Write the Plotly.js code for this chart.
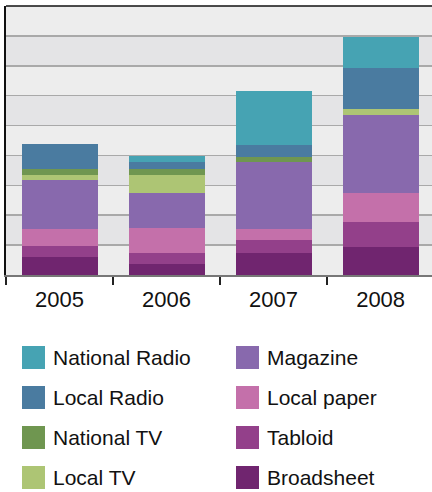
<!DOCTYPE html>
<html>
<head>
<meta charset="utf-8">
<script src="https://cdn.plot.ly/plotly-3.0.1.min.js"></script>
<style>
html,body{margin:0;padding:0;background:#fff;}
#chart{width:432px;height:492px;}
</style>
</head>
<body>
<div id="chart"></div>
<script>
// ---- data ----
var years = ["2005", "2006", "2007", "2008"];
var broadsheet    = [0.59, 0.38, 0.74, 0.94];
var tabloid       = [0.39, 0.36, 0.43, 0.83];
var localPaper    = [0.56, 0.84, 0.37, 0.97];
var magazine      = [1.64, 1.17, 2.23, 2.60];
var localTV       = [0.17, 0.60, 0.00, 0.20];
var nationalTV    = [0.20, 0.20, 0.17, 0.00];
var localRadio    = [0.83, 0.23, 0.40, 1.40];
var nationalRadio = [0.00, 0.20, 1.83, 1.03];

// stacking order (bottom first)
var seriesNames  = ["Broadsheet", "Tabloid", "Local paper", "Magazine", "Local TV", "National TV", "Local Radio", "National Radio"];
var seriesValues = [broadsheet, tabloid, localPaper, magazine, localTV, nationalTV, localRadio, nationalRadio];
var seriesColors = ["#70256f", "#93408a", "#c470aa", "#8869ad", "#adc574", "#6f9650", "#4a7ba0", "#46a3b3"];

// legend layout order (column-major)
var legendOrder = ["National Radio", "Local Radio", "National TV", "Local TV", "Magazine", "Local paper", "Tabloid", "Broadsheet"];

var traces = seriesNames.map(function (name, i) {
  return {
    type: "bar",
    name: name,
    x: years,
    y: seriesValues[i],
    width: 0.71,
    marker: { color: seriesColors[i], line: { width: 0 } },
    showlegend: false,
    hoverinfo: "name+y"
  };
});

var W = 432, H = 492;
var mL = 6, mR = 0, mT = 6, mB = 217;
var plotW = W - mL - mR, plotH = H - mT - mB;
function px(p) { return (p - mL) / plotW; }
function py(p) { return (H - mB - p) / plotH; }

var shapes = [];
// alternating background bands
for (var k = 1; k < 9; k += 2) {
  shapes.push({ type: "rect", xref: "paper", yref: "y", x0: 0, x1: 1, y0: k, y1: k + 1,
    fillcolor: "#e4e4e6", line: { width: 0 }, layer: "below" });
}
// top border
shapes.push({ type: "line", xref: "paper", yref: "paper", x0: 0, x1: 1, y0: 1, y1: 1,
  line: { color: "#111", width: 1.6 } });

var annotations = [];
var font = "'Liberation Sans', Arial, Helvetica, sans-serif";
legendOrder.forEach(function (name, j) {
  var col = Math.floor(j / 4), row = j % 4;
  var sx = col === 0 ? 22 : 236;
  var tx = col === 0 ? 51 : 265;
  var cy = 357.5 + row * 40;
  var idx = seriesNames.indexOf(name);
  shapes.push({ type: "rect", xref: "paper", yref: "paper",
    x0: px(sx), x1: px(sx + 23), y0: py(cy - 11.5), y1: py(cy + 11.5),
    fillcolor: seriesColors[idx], line: { width: 0 } });
  annotations.push({ xref: "paper", yref: "paper", x: px(tx), y: py(cy),
    xanchor: "left", yanchor: "middle", showarrow: false, text: name,
    font: { family: font, size: 21, color: "#111" } });
});

var layout = {
  width: W, height: H,
  margin: { l: mL, r: mR, t: mT, b: mB, pad: 0 },
  paper_bgcolor: "#ffffff",
  plot_bgcolor: "#ededed",
  barmode: "stack",
  showlegend: false,
  font: { family: font, size: 22, color: "#111" },
  xaxis: {
    type: "category",
    range: [-0.5, 3.48],
    tickson: "boundaries",
    ticks: "outside", ticklen: 8, tickwidth: 1.3, tickcolor: "#222",
    ticklabelstandoff: 4,
    showline: true, linecolor: "#777", linewidth: 1.6,
    showgrid: false,
    tickfont: { family: font, size: 22, color: "#111" },
    fixedrange: true
  },
  yaxis: {
    range: [0, 9], dtick: 1,
    showticklabels: false, ticks: "",
    showgrid: true, gridcolor: "#a9a9a9", gridwidth: 1.5,
    zeroline: false,
    showline: true, linecolor: "#111", linewidth: 1.6,
    fixedrange: true
  },
  shapes: shapes,
  annotations: annotations
};

Plotly.newPlot("chart", traces, layout, { displayModeBar: false, staticPlot: true });
</script>
</body>
</html>
